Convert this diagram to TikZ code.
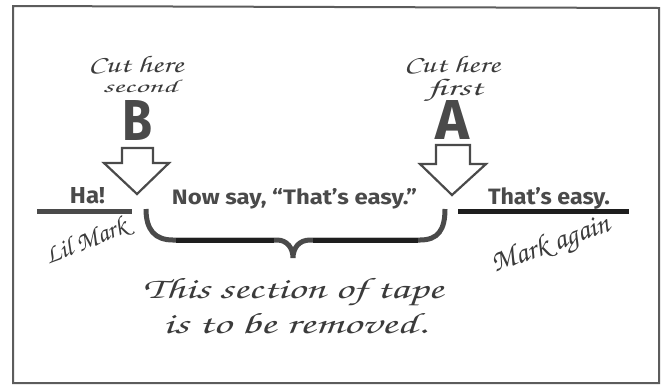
\documentclass[tikz,border=0pt]{standalone}
\usepackage[T1]{fontenc}
\usepackage{fontspec}
\usepackage{graphicx}
\newfontfamily\bsans{Fira Sans}
\newcommand\handfont{\fontencoding{T1}\fontfamily{pzc}\fontseries{mb}\fontshape{it}\selectfont}
\definecolor{ink}{HTML}{4A4A4A}
\definecolor{inkdark}{HTML}{1E1E1E}
\tikzset{
  hand/.style={inner sep=0pt, text=ink!80!black, font=\handfont},
  bold/.style={inner sep=0pt, text=ink, font=\bsans\bfseries},
  cutarrow/.style={draw=ink, line width=2.2pt, line join=miter, fill=white},
  tape/.style={line width=5pt},
  frame/.style={draw=ink!90, line width=2pt}
}
\begin{document}
\begin{tikzpicture}[x=1pt,y=-1pt]
\useasboundingbox (0,0) rectangle (661,384);
\fill[white] (0,0) rectangle (661,384);
% frame
\draw[frame] (13,6) -- (659,8) -- (659,383) -- (13,383) -- cycle;

% cut labels
\node[hand, anchor=base] (cutB1) at (136,72) {\resizebox{95pt}{17pt}{Cut here}};
\node[hand, anchor=base] (cutB2) at (140,92) {\resizebox{74pt}{13pt}{second}};
\node[hand, anchor=base] (cutA1) at (452,72) {\resizebox{96pt}{17pt}{Cut here}};
\node[hand, anchor=base] (cutA2) at (455,95) {\resizebox{55pt}{17pt}{first}};

% big letters
\node[bold, anchor=base] (B) at (137,140) {\resizebox{30pt}{40pt}{B}};
\node[bold, anchor=base] (A) at (452,139) {\resizebox{34pt}{39pt}{A}};

% block arrows
\draw[cutarrow] (122,148) -- (153,148) -- (153,163) -- (169,163) -- (137,194)
  coordinate (tipB) -- (104,163) -- (122,163) -- cycle;
\draw[cutarrow] (436,145) -- (470,145) -- (470,164) -- (486,164) -- (452,195)
  coordinate (tipA) -- (420,164) -- (436,164) -- cycle;

% tape text
\node[bold, anchor=base] (ha) at (87.5,203) {\resizebox{35pt}{16pt}{Ha!}};
\node[bold, anchor=base] (now) at (294.5,204) {\resizebox{245pt}{16pt}{Now say, “That’s easy.”}};
\node[bold, anchor=base] (easy) at (549,204) {\resizebox{122pt}{17pt}{That’s easy.}};

% tape lines
\coordinate (tl1) at (37,211);
\coordinate (tl2) at (132,211);
\coordinate (tr1) at (458,211);
\coordinate (tr2) at (629,211);
\draw[tape, ink] (tl1) -- (tl2);
\draw[tape, inkdark] (tr1) -- (tr2);

% brace
\coordinate (brL) at (146,209);
\coordinate (brR) at (445,209);
\coordinate (brM) at (293,258);
\draw[ink, line width=5pt]
  (brL) .. controls (146,230) and (155,240) .. (173,240) -- (277,240)
  .. controls (287,240) and (293,248) .. (brM)
  .. controls (293,248) and (299,240) .. (310,240) -- (420,240)
  .. controls (438,240) and (445,230) .. (brR);
\draw[inkdark, line width=5pt] (176,240) -- (274,240);
\draw[inkdark, line width=5pt] (313,240) -- (418,240);

% marks
\node[hand, rotate=22] (lil) at (86,242) {\resizebox{86pt}{!}{Lil Mark}};
\node[hand, rotate=20] (again) at (551,246) {\resizebox{124pt}{!}{Mark again}};

% caption
\node[hand, anchor=base] (cap1) at (293,298) {\resizebox{300pt}{21pt}{This section of tape}};
\node[hand, anchor=base] (cap2) at (295,333) {\resizebox{264pt}{21pt}{is to be removed.}};
\end{tikzpicture}
\end{document}
